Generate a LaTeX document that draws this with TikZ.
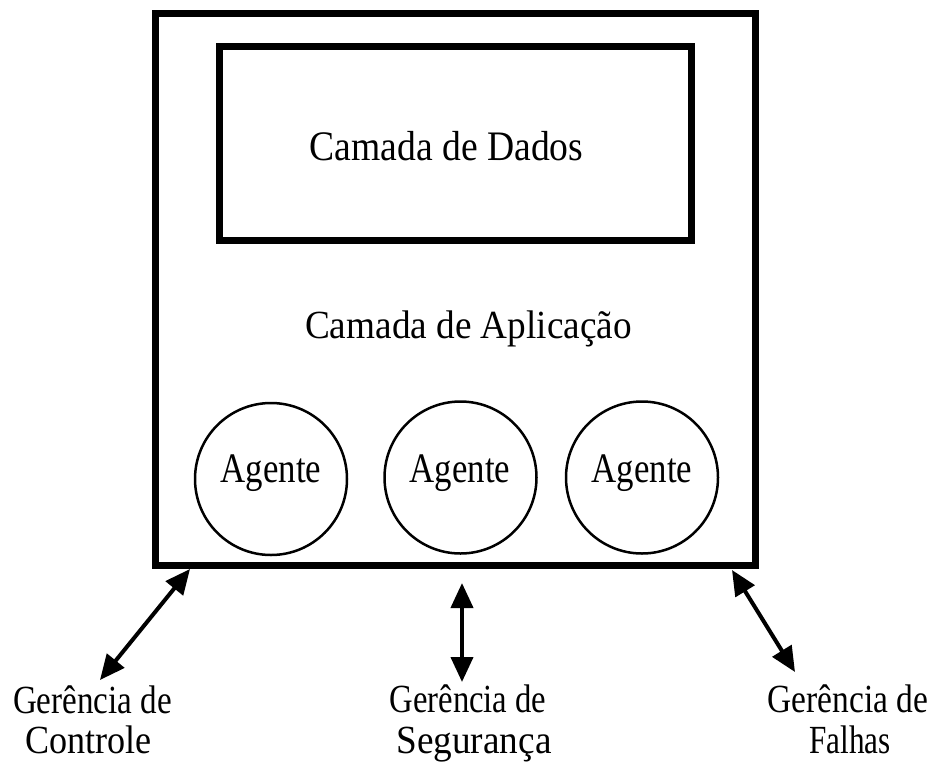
\documentclass[tikz,border=0pt]{standalone}
\usepackage{fontspec}
\setmainfont{Liberation Serif}
\usetikzlibrary{arrows.meta}
\tikzset{
  outerbox/.style={draw=black, line width=7pt},
  innerbox/.style={draw=black, line width=7pt},
  agentcircle/.style={draw=black, line width=2.5pt, circle, minimum size=152pt, inner sep=0pt},
  txt/.style={anchor=base, inner sep=0pt, font=\fontsize{38}{40}\selectfont},
  bigtxt/.style={anchor=base, inner sep=0pt, font=\fontsize{40}{42}\selectfont},
  link/.style={line width=4pt, {Triangle[length=25pt,width=22pt]}-{Triangle[length=25pt,width=22pt]}}
}
\begin{document}
\begin{tikzpicture}[x=1pt,y=-1pt]
\useasboundingbox (0,0) rectangle (932,761);
% boxes
\draw[outerbox] (155,13) rectangle (755,565);
\draw[innerbox] (219,46.5) rectangle (691,240);
\node[bigtxt] (dados) at (446.5,160) {\scalebox{0.94}[1.05]{Camada de Dados}};
\node[txt] (aplic) at (468.5,338) {\scalebox{0.98}[1.05]{Camada de Aplicação}};
% agents
\node[agentcircle] (c1) at (271,479) {};
\node[agentcircle] (c2) at (460.5,477.5) {};
\node[agentcircle] (c3) at (642,477.5) {};
\node[bigtxt] (a1) at (271,482) {\scalebox{0.87}[1.05]{Agente}};
\node[bigtxt] (a2) at (460,482) {\scalebox{0.87}[1.05]{Agente}};
\node[bigtxt] (a3) at (642,482) {\scalebox{0.87}[1.05]{Agente}};
% labels
\node[txt] (g1) at (92.5,713) {\scalebox{0.87}[1.05]{Gerência de}};
\node[txt] (g1b) at (88.5,753) {\scalebox{0.95}[1.05]{Controle}};
\node[txt] (g2) at (468,712) {\scalebox{0.86}[1.05]{Gerência de}};
\node[txt] (g2b) at (474,753) {\scalebox{0.98}[1.05]{Segurança}};
\node[txt] (g3) at (848,712) {\scalebox{0.88}[1.05]{Gerência de}};
\node[txt] (g3b) at (850,753) {\scalebox{0.82}[1.05]{Falhas}};
% arrow endpoints
\coordinate (l1) at (190,569);
\coordinate (l2) at (100,680);
\coordinate (m1) at (462,583);
\coordinate (m2) at (462,682);
\coordinate (r1) at (732,570);
\coordinate (r2) at (795,672);
\draw[link] (l1) -- (l2);
\draw[link] (m1) -- (m2);
\draw[link] (r1) -- (r2);
\end{tikzpicture}
\end{document}
